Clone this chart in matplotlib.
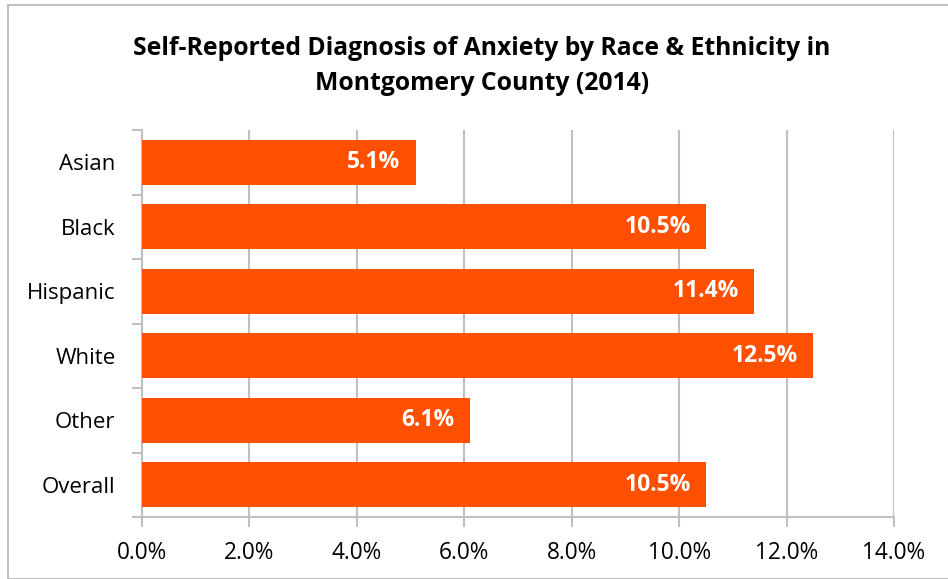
import matplotlib
matplotlib.use("Agg")
import matplotlib.pyplot as plt
from matplotlib.patches import Rectangle
from matplotlib.ticker import MultipleLocator, FixedLocator, PercentFormatter

categories = ["Asian", "Black", "Hispanic", "White", "Other", "Overall"]
values = [5.1, 10.5, 11.4, 12.5, 6.1, 10.5]
title = "Self-Reported Diagnosis of Anxiety by Race & Ethnicity in\nMontgomery County (2014)"

plt.rcParams['font.family'] = ['Open Sans', 'DejaVu Sans']

W, H = 948, 579
fig = plt.figure(figsize=(W/100, H/100), dpi=100)
fig.patch.set_facecolor("white")

# outer chart border
fig.patches.append(Rectangle((8/W, 0), 2, 1 - 5/H, transform=fig.transFigure,
                             fill=False, edgecolor="#bfbfbf", linewidth=1.5, zorder=0))

ax = fig.add_axes([142/W, 1 - 517/H, (894-142)/W, (517-130)/H])
grid_c = "#c0c0c0"
ypos = list(range(len(categories)))
ax.barh(ypos, values, height=0.70, color="#FF4F00", zorder=3)
ax.set_ylim(len(categories) - 0.5, -0.5)
ax.set_xlim(0, 14)

ax.xaxis.set_major_locator(MultipleLocator(2))
ax.xaxis.set_major_formatter(PercentFormatter(decimals=1))
ax.set_yticks(ypos)
ax.set_yticklabels(categories)
ax.yaxis.set_minor_locator(FixedLocator([i - 0.5 for i in range(len(categories) + 1)]))
ax.tick_params(axis='y', which='major', length=0, pad=19, labelsize=16, labelcolor="black")
ax.tick_params(axis='y', which='minor', length=7, color=grid_c, width=1.5)
ax.tick_params(axis='x', which='major', length=7, color=grid_c, width=1.5, pad=10,
               labelsize=16.3, labelcolor="black")

ax.grid(axis='x', color=grid_c, linewidth=1.5, zorder=0)
ax.set_axisbelow(True)
for s in ["top", "right"]:
    ax.spines[s].set_visible(False)
for s in ["left", "bottom"]:
    ax.spines[s].set_color(grid_c)
    ax.spines[s].set_linewidth(1.5)

for y, v in zip(ypos, values):
    ax.annotate(f"{v:.1f}%", xy=(v, y), xytext=(-11, 0), textcoords="offset points",
                ha="right", va="center", color="white", fontsize=16.5, fontweight="bold",
                zorder=4)

fig.text(482/W, 1 - 66/H, title, ha="center", va="center", fontsize=17.8,
         fontweight="bold", linespacing=1.55)

fig.savefig("out.png", dpi=100, facecolor="white")
